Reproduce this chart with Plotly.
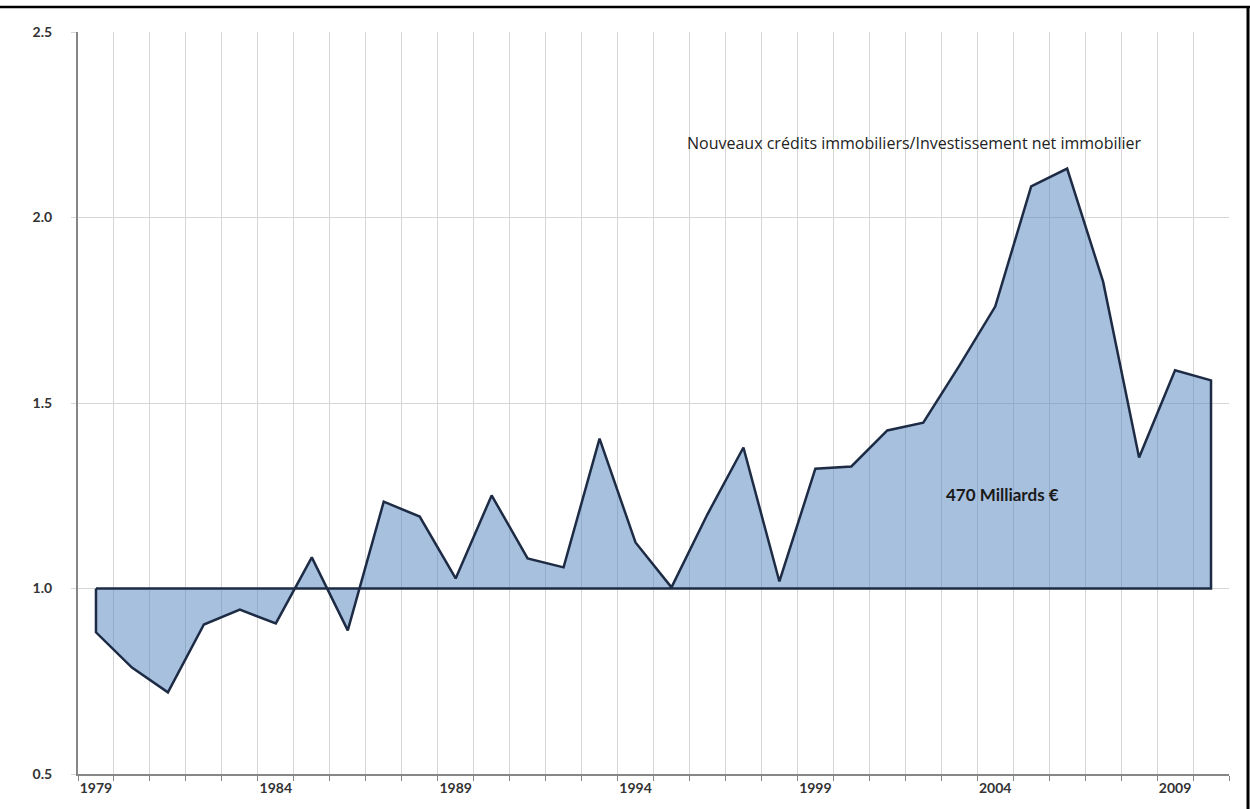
import plotly.graph_objects as go

# ---- data ----
years = list(range(1979, 2011))
ratio = [0.882, 0.787, 0.720, 0.903, 0.943, 0.906, 1.084, 0.887, 1.234, 1.194,
         1.027, 1.251, 1.081, 1.057, 1.404, 1.124, 1.003, 1.200, 1.380, 1.019,
         1.323, 1.329, 1.426, 1.447, 1.600, 1.760, 2.084, 2.132, 1.827, 1.353,
         1.588, 1.561]
baseline = 1.0
label_years = [1979, 1984, 1989, 1994, 1999, 2004, 2009]
y_ticks = [0.5, 1.0, 1.5, 2.0, 2.5]
series_label = "Nouveaux crédits immobiliers/Investissement net immobilier"
area_label = "470 Milliards €"

# ---- layout geometry ----
W, H = 1250, 809
ML, MR, MT, MB = 78, 21, 32, 35
pw, ph = W - ML - MR, H - MT - MB

x_poly = [years[0]] + years + [years[-1], years[0]]
y_poly = [baseline] + ratio + [baseline, baseline]

fig = go.Figure()
fig.add_trace(go.Scatter(
    x=x_poly, y=y_poly, mode="lines", fill="toself",
    fillcolor="rgba(79,129,189,0.5)",
    line=dict(color="#1d2b45", width=2.5),
    hoverinfo="skip", showlegend=False,
))

tick_font = dict(family="Lato, Open Sans, sans-serif", size=14, color="#333333", weight="bold")

fig.update_layout(
    width=W, height=H,
    margin=dict(l=ML, r=MR, t=MT, b=MB),
    paper_bgcolor="white", plot_bgcolor="white",
    showlegend=False,
    xaxis=dict(
        range=[years[0] - 0.5, years[-1] + 0.5],
        tickvals=label_years, ticktext=[str(y) for y in label_years],
        showgrid=False, ticks="", zeroline=False,
        showline=True, linecolor="#868686", linewidth=2,
        tickfont=tick_font,
        minor=dict(tick0=years[0] - 0.5, dtick=1, showgrid=True,
                   gridcolor="#d6d6d6", gridwidth=1,
                   ticks="outside", ticklen=5, tickcolor="#868686"),
    ),
    yaxis=dict(
        range=[y_ticks[0], y_ticks[-1]],
        tickvals=y_ticks, ticktext=[f"{v:.1f}" for v in y_ticks],
        showgrid=True, gridcolor="#d6d6d6", gridwidth=1, zeroline=False,
        showline=True, linecolor="#868686", linewidth=2,
        ticks="outside", ticklen=5, tickcolor="#d6d6d6",
        ticklabelstandoff=16,
        tickfont=tick_font,
    ),
    font=dict(family="Lato, Open Sans, sans-serif"),
)

fig.add_annotation(
    x=2001.75, y=2.2, xref="x", yref="y", text=series_label,
    showarrow=False, xanchor="center", yanchor="middle",
    font=dict(family="Open Sans, Lato, sans-serif", size=16, color="#222222"),
)
fig.add_annotation(
    x=2004.2, y=1.253, xref="x", yref="y", text=f"<b>{area_label}</b>",
    showarrow=False, xanchor="center", yanchor="middle",
    font=dict(family="Lato, Open Sans, sans-serif", size=17, color="#1a1a1a"),
)

# page frame lines (top and right)
def px_x(p):
    return (p - ML) / pw

def px_y(p):
    return (H - MB - p) / ph

fig.add_shape(type="line", xref="paper", yref="paper",
              x0=px_x(0), x1=px_x(W), y0=px_y(7), y1=px_y(7),
              line=dict(color="black", width=2.5))
fig.add_shape(type="line", xref="paper", yref="paper",
              x0=px_x(1248), x1=px_x(1248), y0=px_y(7), y1=px_y(H),
              line=dict(color="black", width=3))

fig.write_html("out.html")
